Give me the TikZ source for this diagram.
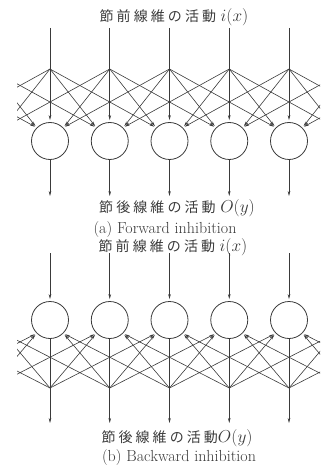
\documentclass[tikz,border=0pt]{standalone}
\usepackage{fontspec}
\newfontfamily\jp[LetterSpace=22]{Noto Sans CJK JP}
\usepackage{tikz}
\usetikzlibrary{arrows.meta,calc}
\definecolor{ink}{HTML}{3A3A3A}

\begin{document}
\begin{tikzpicture}[x=1pt,y=-1pt,>={Stealth[length=5pt,width=2.6pt]},
  fibre/.style={draw=ink,line width=0.6pt},
  feed/.style={fibre,->,shorten >=2pt},
  cell/.style={circle,line width=0.8pt,minimum size=37pt,inner sep=0pt},
  lbl/.style={font=\fontsize{14}{16}\selectfont,text=ink,inner sep=0pt},
  captxt/.style={font=\fontsize{16}{18}\selectfont,text=ink,inner sep=0pt}]
\useasboundingbox (0,0) rectangle (328,470);
% cells, branch points and free ends (0,1,7,8 lie outside)
\foreach \k in {0,...,8}{
  \pgfmathsetmacro\xk{50+59.75*(\k-2)}
  \ifnum\k<2 \def\dc{none}\else\ifnum\k>6 \def\dc{none}\else\def\dc{ink}\fi\fi
  \node[cell,draw=\dc] (a\k) at (\xk,141) {};
  \node[cell,draw=\dc] (b\k) at (\xk,320) {};
  \coordinate (pa\k) at (\xk,69);
  \coordinate (pb\k) at (\xk,388);
  \coordinate (ia\k) at (\xk,28);
  \coordinate (oa\k) at (\xk,196);
  \coordinate (ib\k) at (\xk,253);
  \coordinate (ob\k) at (\xk,423);
}
\foreach \k in {2,...,6}{
  \draw[feed] (ia\k) -- (a\k);
  \draw[fibre,->] (a\k) -- (oa\k);
  \draw[feed] (ib\k) -- (b\k);
  \draw[fibre] (b\k) -- (pb\k);
  \draw[fibre,->] (pb\k) -- (ob\k);
}
% lateral inhibition
\begin{scope}
\clip (17,0) rectangle (320,470);
\foreach \i in {0,...,8}{
  \foreach \d in {-2,-1,1,2}{
    \pgfmathtruncatemacro\j{\i+\d}
    \pgfmathtruncatemacro\up{\d>0 ? 135 : 45}
    \pgfmathtruncatemacro\dn{\d>0 ? 225 : 315}
    \ifnum\j<0 \else\ifnum\j>8 \else
      \draw[feed] (pa\i) -- (a\j.\up);
      \draw[feed] (pb\i) -- (b\j.\dn);
    \fi\fi
  }
}
\end{scope}
\node[lbl] (ina) at (174,17) {{\jp 節前線維の活動}\ {\fontsize{17}{17}\selectfont$i(x)$}};
\node[lbl] (outa) at (177,208) {{\jp 節後線維の活動}\ {\fontsize{17}{17}\selectfont$O(y)$}};
\node[captxt] (capa) at (165,230) {(a) Forward inhibition};
\node[lbl] (inb) at (173,247) {{\jp 節前線維の活動}\ {\fontsize{17}{17}\selectfont$i(x)$}};
\node[lbl] (outb) at (177,438) {{\jp 節後線維の活動}{\fontsize{17}{17}\selectfont$O(y)$}};
\node[captxt] (capb) at (179,458) {(b) Backward inhibition};
\end{tikzpicture}
\end{document}
